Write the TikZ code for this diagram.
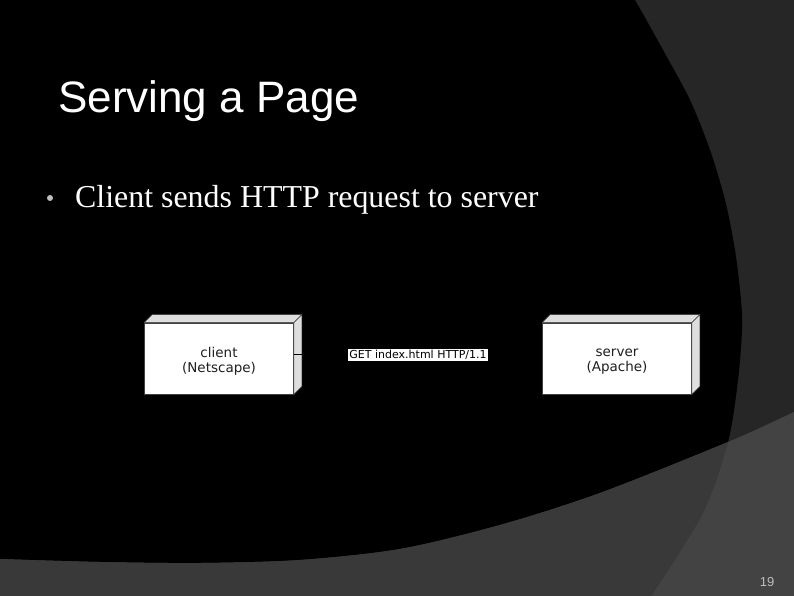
\documentclass[tikz,border=0pt]{standalone}
\usepackage{fontspec}
\setmainfont{Liberation Serif}
\newfontfamily\titlefont{Liberation Sans}
\newfontfamily\umlfont{DejaVu Sans}
\definecolor{bgdark}{HTML}{262626}
\definecolor{bandout}{HTML}{434343}
\definecolor{bandin}{HTML}{393939}
\definecolor{facegray}{HTML}{DEDEDE}
\definecolor{edgegray}{HTML}{404040}
\definecolor{bulletgray}{HTML}{BFBFBF}
\definecolor{numgray}{HTML}{BEBEBE}
\tikzset{
  frontbox/.style={draw=edgegray, line width=0.8pt, fill=white, minimum width=149pt, minimum height=71pt, inner sep=0pt},
  sideface/.style={fill=facegray, draw=edgegray, line width=0.6pt, line join=round},
  boxtext/.style={font=\umlfont\fontsize{13.5}{15}\selectfont, text=black!88, align=center, inner sep=0pt},
  msglabel/.style={font=\umlfont\fontsize{11}{12}\selectfont, fill=white, text=black, inner xsep=1.8pt, inner ysep=0.6pt, text height=8.6pt, text depth=2.4pt},
  conn/.style={draw=black, line width=0.8pt},
  titletext/.style={font=\titlefont\fontsize{44}{50}\selectfont, text=white, inner sep=0pt, anchor=base west},
  bullettext/.style={font=\fontsize{31.9}{36}\selectfont, text=white, inner sep=0pt, anchor=base west},
  pagenum/.style={font=\titlefont\fontsize{13}{15}\selectfont, text=numgray, inner sep=0pt, anchor=base east}
}
\begin{document}
\begin{tikzpicture}[x=1pt, y=-1pt]
\useasboundingbox (0,0) rectangle (794,595);
% background
\fill[bgdark] (0,0) rectangle (794,595);
\fill[black] (-10,-20) -- plot[smooth] coordinates {(625,-15) (635,0) (663,50) (690,100) (710,150) (725,200) (735,250) (741,300) (742,330) (738,380) (728,442) (703,513) (652,595) (640,612)} -- (-10,612) -- cycle;
\begin{scope}
  \clip plot[smooth] coordinates {(-10,558) (0,559) (100,562) (200,563) (300,560) (400,549) (500,525) (600,493) (728,442) (794,412) (810,405)} -- (810,620) -- (-10,620) -- cycle;
  \fill[bandout] (-10,300) rectangle (810,620);
  \fill[bandin] (-10,-20) -- plot[smooth] coordinates {(625,-15) (635,0) (663,50) (690,100) (710,150) (725,200) (735,250) (741,300) (742,330) (738,380) (728,442) (703,513) (652,595) (640,612)} -- (-10,612) -- cycle;
\end{scope}
% title and bullet
\node[titletext] (title) at (58,112) {Serving a Page};
\fill[bulletgray] (50,198) circle (3pt);
\node[bullettext] (bullet) at (75,207) {Client sends HTTP request to server};
% UML nodes
\node[frontbox] (client) at (219,358.5) {};
\node[frontbox] (server) at (617,358.5) {};
\foreach \n in {client,server} {
  \filldraw[sideface] (\n.north west) -- ++(8,-8) -- ([shift={(8,-8)}]\n.north east) -- (\n.north east) -- cycle;
  \filldraw[sideface] (\n.north east) -- ([shift={(8,-8)}]\n.north east) -- ([shift={(8,-8)}]\n.south east) -- (\n.south east) -- cycle;
}
\node[boxtext] (clienttext) at ([yshift=-3pt]client.center) {client\\(Netscape)};
\node[boxtext] (servertext) at ([yshift=-3pt]server.center) {server\\(Apache)};
\draw[conn] ([yshift=4.5pt]client.east) -- ([yshift=4.5pt]server.west) node[midway, msglabel, yshift=-1pt] (msg) {GET index.html HTTP/1.1};
% page number
\node[pagenum] (num) at (774.5,586) {19};
\end{tikzpicture}
\end{document}
